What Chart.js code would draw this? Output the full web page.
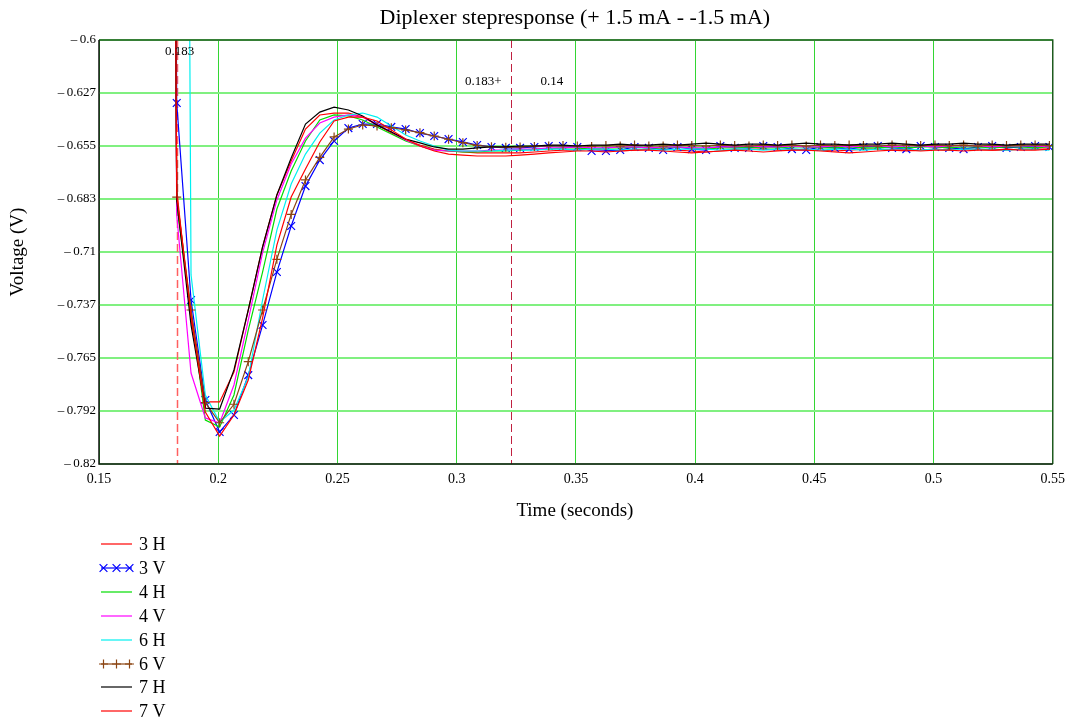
<!DOCTYPE html>
<html><head><meta charset="utf-8">
<script src="https://cdn.jsdelivr.net/npm/chart.js@4/dist/chart.umd.min.js"></script>
<style>html,body{margin:0;padding:0;background:#fff}#wrap{width:1072px;height:717px;position:relative}</style>
</head><body><div id="wrap"><canvas id="c" width="1072" height="717"></canvas></div>
<script>
// ---- data (seconds / volts) ----
const times = [0.1766,0.1826,0.1886,0.1946,0.2006,0.2066,0.2126,0.2186,0.2246,0.2306,
0.2366,0.2426,0.2486,0.2546,0.2606,0.2666,0.2726,0.2786,0.2846,0.2906,
0.2966,0.3026,0.3086,0.3146,0.3206,0.3266,0.3326,0.3386,0.3446,0.3506,
0.3566,0.3626,0.3686,0.3746,0.3806,0.3866,0.3926,0.3986,0.4046,0.4106,
0.4166,0.4226,0.4286,0.4346,0.4406,0.4466,0.4526,0.4586,0.4646,0.4706,
0.4766,0.4826,0.4886,0.4946,0.5006,0.5066,0.5126,0.5186,0.5246,0.5306,
0.5366,0.5426,0.5486];
const v3H = [0.655,-0.6780,-0.7453,-0.7878,-0.7878,-0.7723,-0.7401,-0.7074,-0.6804,-0.6628,-0.6462,-0.6389,-0.6379,-0.6379,-0.6400,-0.6441,-0.6483,-0.6519,-0.6545,-0.6566,-0.6576,-0.6581,-0.6586,-0.6586,-0.6586,
-0.6586,-0.6581,-0.6576,-0.6571,-0.6571,-0.6566,-0.6571,-0.6576,-0.6571,-0.6566,-0.6566,-0.6571,-0.6576,-0.6581,-0.6576,-0.6571,-0.6566,-0.6566,-0.6571,-0.6571,-0.6566,-0.6571,-0.6576,-0.6571,-0.6566,-0.6566,-0.6571,-0.6576,-0.6571,-0.6566,-0.6571,-0.6566,-0.6566,-0.6571,-0.6571,-0.6566,-0.6566,-0.6566];
const v3V = [0.655,-0.6327,-0.7349,-0.7868,-0.8034,-0.7946,-0.7739,-0.7479,-0.7204,-0.6965,-0.6758,-0.6623,-0.6524,-0.6457,-0.6436,-0.6436,-0.6451,-0.6462,-0.6483,-0.6498,-0.6514,-0.6529,-0.6545,-0.6555,-0.6560,
-0.6560,-0.6555,-0.6550,-0.6550,-0.6555,-0.6576,-0.6576,-0.6571,-0.6555,-0.6560,-0.6571,-0.6555,-0.6566,-0.6571,-0.6550,-0.6560,-0.6560,-0.6550,-0.6555,-0.6566,-0.6571,-0.6555,-0.6560,-0.6566,-0.6555,-0.6550,-0.6560,-0.6566,-0.6550,-0.6555,-0.6560,-0.6566,-0.6555,-0.6550,-0.6560,-0.6555,-0.6550,-0.6555];
const v4H = [0.655,-0.6856,-0.7401,-0.7972,-0.8008,-0.7842,-0.7505,-0.7204,-0.6877,-0.6680,-0.6524,-0.6415,-0.6389,-0.6394,-0.6415,-0.6451,-0.6488,-0.6524,-0.6550,-0.6571,-0.6576,-0.6581,-0.6581,-0.6576,-0.6576,
-0.6571,-0.6566,-0.6566,-0.6560,-0.6560,-0.6566,-0.6560,-0.6560,-0.6555,-0.6560,-0.6560,-0.6555,-0.6560,-0.6566,-0.6560,-0.6560,-0.6555,-0.6560,-0.6560,-0.6555,-0.6555,-0.6560,-0.6560,-0.6555,-0.6560,-0.6560,-0.6555,-0.6560,-0.6555,-0.6555,-0.6560,-0.6555,-0.6555,-0.6560,-0.6555,-0.6555,-0.6560,-0.6555];
const v4V = [0.655,-0.6908,-0.7728,-0.7961,-0.7987,-0.7790,-0.7453,-0.7105,-0.6830,-0.6643,-0.6509,-0.6431,-0.6400,-0.6389,-0.6400,-0.6436,-0.6477,-0.6519,-0.6550,-0.6571,-0.6576,-0.6576,-0.6576,-0.6571,-0.6571,
-0.6566,-0.6566,-0.6560,-0.6560,-0.6555,-0.6560,-0.6560,-0.6555,-0.6555,-0.6560,-0.6555,-0.6555,-0.6560,-0.6560,-0.6555,-0.6555,-0.6550,-0.6555,-0.6555,-0.6550,-0.6555,-0.6555,-0.6550,-0.6555,-0.6550,-0.6550,-0.6555,-0.6550,-0.6550,-0.6555,-0.6550,-0.6550,-0.6550,-0.6555,-0.6550,-0.6550,-0.6550,-0.6555];
const v6H = [0.655,0.655,-0.7219,-0.7842,-0.7982,-0.7920,-0.7749,-0.7349,-0.6986,-0.6747,-0.6592,-0.6483,-0.6415,-0.6389,-0.6379,-0.6400,-0.6446,-0.6493,-0.6524,-0.6550,-0.6571,-0.6576,-0.6576,-0.6576,-0.6571,
-0.6571,-0.6571,-0.6566,-0.6566,-0.6571,-0.6566,-0.6566,-0.6571,-0.6566,-0.6566,-0.6571,-0.6566,-0.6566,-0.6566,-0.6571,-0.6566,-0.6566,-0.6571,-0.6566,-0.6566,-0.6566,-0.6571,-0.6566,-0.6566,-0.6571,-0.6566,-0.6566,-0.6566,-0.6571,-0.6566,-0.6571,-0.6566,-0.6566,-0.6566,-0.6571,-0.6566,-0.6566,-0.6571];
const v6V = [0.655,-0.6815,-0.7401,-0.7882,-0.7986,-0.7890,-0.7669,-0.7401,-0.7138,-0.6905,-0.6726,-0.6609,-0.6503,-0.6462,-0.6441,-0.6446,-0.6455,-0.6467,-0.6481,-0.6498,-0.6515,-0.6533,-0.6547,-0.6554,-0.6557,
-0.6555,-0.6552,-0.6550,-0.6548,-0.6550,-0.6552,-0.6548,-0.6550,-0.6545,-0.6550,-0.6550,-0.6545,-0.6548,-0.6550,-0.6545,-0.6548,-0.6550,-0.6545,-0.6548,-0.6545,-0.6550,-0.6545,-0.6548,-0.6545,-0.6548,-0.6550,-0.6545,-0.6545,-0.6548,-0.6545,-0.6548,-0.6545,-0.6550,-0.6545,-0.6548,-0.6545,-0.6545,-0.6548];
const v7H = [0.655,-0.6830,-0.7479,-0.7910,-0.7915,-0.7712,-0.7401,-0.7074,-0.6804,-0.6612,-0.6436,-0.6374,-0.6348,-0.6363,-0.6394,-0.6441,-0.6477,-0.6514,-0.6534,-0.6555,-0.6566,-0.6566,-0.6560,-0.6555,-0.6555,
-0.6550,-0.6550,-0.6545,-0.6545,-0.6550,-0.6545,-0.6545,-0.6540,-0.6545,-0.6545,-0.6540,-0.6545,-0.6540,-0.6535,-0.6540,-0.6545,-0.6540,-0.6540,-0.6545,-0.6540,-0.6535,-0.6540,-0.6540,-0.6545,-0.6540,-0.6540,-0.6535,-0.6540,-0.6545,-0.6540,-0.6540,-0.6535,-0.6540,-0.6540,-0.6545,-0.6540,-0.6540,-0.6540];
const v7V = [0.655,-0.6804,-0.7427,-0.7930,-0.8055,-0.7946,-0.7764,-0.7443,-0.7064,-0.6815,-0.6669,-0.6529,-0.6420,-0.6400,-0.6400,-0.6420,-0.6467,-0.6514,-0.6550,-0.6576,-0.6592,-0.6597,-0.6602,-0.6602,-0.6602,
-0.6597,-0.6592,-0.6586,-0.6581,-0.6576,-0.6576,-0.6581,-0.6576,-0.6571,-0.6571,-0.6576,-0.6581,-0.6586,-0.6581,-0.6576,-0.6571,-0.6576,-0.6581,-0.6576,-0.6571,-0.6571,-0.6576,-0.6581,-0.6586,-0.6581,-0.6576,-0.6571,-0.6571,-0.6576,-0.6571,-0.6571,-0.6576,-0.6571,-0.6571,-0.6566,-0.6571,-0.6571,-0.6566];

const seriesNames = ['3 H','3 V','4 H','4 V','6 H','6 V','7 H','7 V'];
const seriesValues = [v3H, v3V, v4H, v4V, v6H, v6V, v7H, v7V];
const xTickValues = [0.15,0.2,0.25,0.3,0.35,0.4,0.45,0.5,0.55];
const xTickLabels = ['0.15','0.2','0.25','0.3','0.35','0.4','0.45','0.5','0.55'];
const yTickValues = [-0.82,-0.7925,-0.765,-0.7375,-0.71,-0.6825,-0.655,-0.6275,-0.6];
const yTickLabels = ['\u2013\u20090.82','\u2013\u20090.792','\u2013\u20090.765','\u2013\u20090.737','\u2013\u20090.71','\u2013\u20090.683','\u2013\u20090.655','\u2013\u20090.627','\u2013\u20090.6'];
const markerTimes = [0.1826, 0.3226];
const markerLabels = ['0.183', '0.183+', '0.14'];
const titleText = 'Diplexer stepresponse (+ 1.5 mA - -1.5 mA)';
const xTitle = 'Time (seconds)';
const yTitle = 'Voltage (V)';

// ---- styles ----
const styles = [
  {color:'#ff0000', point:false},
  {color:'#0000ff', point:'crossRot', r:5.5},
  {color:'#00dd00', point:false},
  {color:'#ff00ff', point:false},
  {color:'#00f0f0', point:false},
  {color:'#8b4513', point:'cross', r:4.5},
  {color:'#000000', point:false},
  {color:'#ff0000', point:false}
];
const SERIF = '"Liberation Serif", "Times New Roman", serif';

const datasets = seriesValues.map((vals, i) => ({
  label: seriesNames[i],
  data: times.map((t, k) => ({x: t, y: vals[k]})).filter(p => p.y !== undefined),
  borderColor: styles[i].color,
  backgroundColor: styles[i].color,
  borderWidth: 1.2,
  pointStyle: styles[i].point || 'circle',
  pointRadius: styles[i].point ? styles[i].r : 0,
  pointBorderWidth: 1.2,
  pointBorderColor: styles[i].color,
  tension: 0,
  order: 7 - i
}));

const deco = {
  id: 'deco',
  beforeDatasetsDraw(chart) {
    const {ctx, chartArea: a, scales: {x}} = chart;
    ctx.save();
    const cols = ['#ff6060', '#c02040'];
    markerTimes.forEach((t, i) => {
      const px = Math.round(x.getPixelForValue(t)) + 0.5;
      ctx.strokeStyle = cols[i];
      ctx.lineWidth = i === 0 ? 1.5 : 1;
      ctx.setLineDash([8, 4]);
      ctx.beginPath(); ctx.moveTo(px, a.top); ctx.lineTo(px, a.bottom); ctx.stroke();
    });
    ctx.restore();
  },
  afterDraw(chart) {
    const {ctx, chartArea: a, scales: {x}} = chart;
    ctx.save();
    // frame
    ctx.lineWidth = 1.5;
    ctx.strokeStyle = '#1e5a1e';
    ctx.beginPath(); ctx.moveTo(a.left, a.top); ctx.lineTo(a.right, a.top); ctx.lineTo(a.right, a.bottom); ctx.stroke();
    ctx.strokeStyle = '#111';
    ctx.beginPath(); ctx.moveTo(a.left, a.top); ctx.lineTo(a.left, a.bottom); ctx.lineTo(a.right, a.bottom); ctx.stroke();
    // marker annotations
    ctx.fillStyle = '#000';
    ctx.font = '13px ' + SERIF;
    ctx.textBaseline = 'alphabetic';
    const p1 = x.getPixelForValue(markerTimes[0]);
    const p2 = x.getPixelForValue(markerTimes[1]);
    ctx.textAlign = 'center';
    ctx.fillText(markerLabels[0], p1 + 3, a.top + 15);
    ctx.textAlign = 'right';
    ctx.fillText(markerLabels[1], p2 - 9, a.top + 45);
    ctx.textAlign = 'left';
    ctx.fillText(markerLabels[2], p2 + 30, a.top + 45);
    // title
    const cx = (a.left + a.right) / 2;
    ctx.textAlign = 'center';
    ctx.textBaseline = 'middle';
    ctx.font = '22px ' + SERIF;
    ctx.fillText(titleText, cx - 1, 18);
    ctx.font = '19px ' + SERIF;
    ctx.fillText(xTitle, cx - 1, 511);
    ctx.save();
    ctx.translate(18, (a.top + a.bottom) / 2);
    ctx.rotate(-Math.PI / 2);
    ctx.fillText(yTitle, 0, 0);
    ctx.restore();
    // legend
    ctx.font = '18px ' + SERIF;
    ctx.textAlign = 'left';
    chart.data.datasets.forEach((ds, i) => {
      const y = Math.round(544 + i * 23.9);
      ctx.strokeStyle = ds.borderColor;
      ctx.lineWidth = 1.2;
      ctx.setLineDash([]);
      ctx.beginPath(); ctx.moveTo(101, y); ctx.lineTo(132, y); ctx.stroke();
      if (ds.pointRadius > 0) {
        [103.5, 116.5, 129.5].forEach(px => {
          ctx.strokeStyle = ds.borderColor;
          Chart.helpers.drawPoint(ctx, {pointStyle: ds.pointStyle, radius: ds.pointRadius, rotation: 0, borderWidth: 1.2}, px, y);
        });
      }
      ctx.fillStyle = '#000';
      ctx.fillText(ds.label, 139, y + 1);
    });
    ctx.restore();
  }
};

new Chart(document.getElementById('c'), {
  type: 'line',
  data: {datasets},
  options: {
    responsive: false,
    devicePixelRatio: 1,
    animation: false,
    layout: {padding: {top: 40, right: 18, bottom: 223, left: 0}},
    plugins: {legend: {display: false}, tooltip: {enabled: false}, title: {display: false}},
    elements: {line: {fill: false}},
    scales: {
      x: {
        type: 'linear', min: 0.15, max: 0.55,
        afterBuildTicks: s => { s.ticks = xTickValues.map(v => ({value: v})); },
        afterFit: s => { s.height = 30; },
        ticks: {callback: (v, i) => xTickLabels[i], font: {family: SERIF, size: 14}, color: '#000', padding: 7, maxRotation: 0, autoSkip: false},
        grid: {color: '#33d633', lineWidth: 1, drawTicks: false},
        border: {display: false}
      },
      y: {
        type: 'linear', min: -0.82, max: -0.6,
        afterBuildTicks: s => { s.ticks = yTickValues.map(v => ({value: v})); },
        afterFit: s => { s.width = 99; },
        ticks: {callback: (v, i) => yTickLabels[i], font: {family: SERIF, size: 13}, color: '#000', padding: 3, autoSkip: false},
        grid: {color: '#80f080', lineWidth: 2, drawTicks: false},
        border: {display: false}
      }
    }
  },
  plugins: [deco]
});
</script>
</body></html>
